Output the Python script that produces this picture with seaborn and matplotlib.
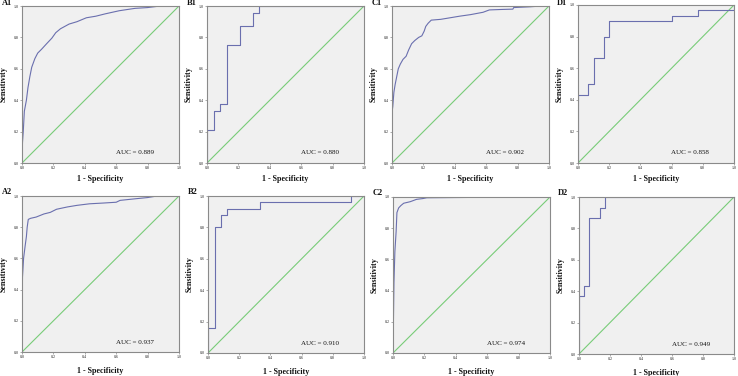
import matplotlib
matplotlib.use("Agg")
import matplotlib.pyplot as plt
import seaborn as sns
import pandas as pd

# ---------------- data ----------------
panel_names = ["A1", "B1", "C1", "D1", "A2", "B2", "C2", "D2"]
auc_values = ["0.889", "0.880", "0.902", "0.858", "0.937", "0.910", "0.974", "0.949"]
tick_values = [0.0, 0.2, 0.4, 0.6, 0.8, 1.0]
tick_labels = ["0.0", "0.2", "0.4", "0.6", "0.8", "1.0"]

A1_fpr = [0, 0.003, 0.008, 0.015, 0.028, 0.038, 0.05, 0.062, 0.082, 0.10, 0.125, 0.157, 0.19,
          0.215, 0.245, 0.30, 0.35, 0.41, 0.47, 0.53, 0.62, 0.72, 0.80, 0.88, 1.0]
A1_tpr = [0, 0.13, 0.20, 0.33, 0.40, 0.48, 0.55, 0.61, 0.665, 0.70, 0.725, 0.76, 0.795,
          0.83, 0.855, 0.885, 0.90, 0.925, 0.935, 0.95, 0.97, 0.985, 0.99, 1.0, 1.0]

B1_fpr = [0, 0, 0.042, 0.083, 0.125, 0.208, 0.292, 0.333, 1.0]
B1_tpr = [0, 0.208, 0.333, 0.375, 0.75, 0.875, 0.958, 1.0, 1.0]

C1_fpr = [0, 0.0, 0.005, 0.012, 0.02, 0.03, 0.04, 0.053, 0.07, 0.09, 0.106, 0.125, 0.145, 0.17,
          0.19, 0.205, 0.215, 0.23, 0.25, 0.31, 0.37, 0.43, 0.50, 0.58, 0.62, 0.70, 0.77, 0.775,
          0.88, 0.95, 1.0]
C1_tpr = [0, 0.32, 0.36, 0.45, 0.50, 0.55, 0.60, 0.63, 0.66, 0.68, 0.72, 0.76, 0.78, 0.80,
          0.81, 0.84, 0.87, 0.89, 0.91, 0.915, 0.925, 0.935, 0.945, 0.96, 0.975, 0.978, 0.98, 0.99,
          0.995, 1.0, 1.0]

D1_fpr = [0, 0, 0.067, 0.1, 0.167, 0.2, 0.6, 0.767, 1.0]
D1_tpr = [0, 0.433, 0.5, 0.667, 0.8, 0.9, 0.933, 0.967, 1.0]

A2_fpr = [0, 0.003, 0.01, 0.02, 0.028, 0.033, 0.04, 0.055, 0.09, 0.14, 0.18, 0.22, 0.29, 0.35,
          0.43, 0.52, 0.60, 0.625, 0.72, 0.80, 0.86, 1.0]
A2_tpr = [0, 0.48, 0.60, 0.68, 0.74, 0.80, 0.85, 0.857, 0.865, 0.885, 0.895, 0.915, 0.93, 0.94,
          0.95, 0.955, 0.96, 0.972, 0.982, 0.99, 1.0, 1.0]

B2_fpr = [0, 0, 0.042, 0.083, 0.125, 0.333, 0.917, 1.0]
B2_tpr = [0, 0.16, 0.80, 0.88, 0.92, 0.96, 1.0, 1.0]

C2_fpr = [0, 0.006, 0.012, 0.02, 0.025, 0.036, 0.05, 0.068, 0.11, 0.15, 0.19, 0.215, 0.81, 1.0]
C2_tpr = [0, 0.45, 0.65, 0.78, 0.90, 0.93, 0.945, 0.96, 0.97, 0.985, 0.99, 0.995, 1.0, 1.0]

D2_fpr = [0, 0, 0.033, 0.067, 0.133, 0.167, 1.0]
D2_tpr = [0, 0.367, 0.433, 0.867, 0.933, 1.0, 1.0]

curves = {
    "A1": (A1_fpr, A1_tpr, "default"), "B1": (B1_fpr, B1_tpr, "steps-post"),
    "C1": (C1_fpr, C1_tpr, "default"), "D1": (D1_fpr, D1_tpr, "steps-post"),
    "A2": (A2_fpr, A2_tpr, "default"), "B2": (B2_fpr, B2_tpr, "steps-post"),
    "C2": (C2_fpr, C2_tpr, "default"), "D2": (D2_fpr, D2_tpr, "steps-post"),
}
diag = [0.0, 1.0]

# ---------------- style ----------------
sns.set_theme(style="white")
plt.rcParams["font.family"] = ["Liberation Serif", "DejaVu Serif"]

W, H = 738, 376
fig = plt.figure(figsize=(W / 100, H / 100), dpi=100)

# axes boxes in pixels: left, top, right, bottom
boxes = {
    "A1": (22, 6, 179, 163), "B1": (207, 6, 364, 163),
    "C1": (392, 6, 549, 163), "D1": (578, 5, 734, 163),
    "A2": (22, 196, 179, 352), "B2": (208, 196, 364, 353),
    "C2": (393, 197, 550, 353), "D2": (579, 197, 734, 354),
}

curve_color = "#6a6fae"
diag_color = "#78cc78"
frame_color = "#8a8a8a"

for name, auc in zip(panel_names, auc_values):
    l, t, r, b = boxes[name]
    ax = fig.add_axes([l / W, 1 - b / H, (r - l) / W, (b - t) / H])
    ax.set_facecolor("#f0f0f0")
    fpr, tpr, ds = curves[name]
    df = pd.DataFrame({"fpr": fpr, "tpr": tpr})
    sns.lineplot(data=pd.DataFrame({"x": diag, "y": diag}), x="x", y="y", ax=ax,
                 color=diag_color, linewidth=0.8, sort=False, estimator=None)
    sns.lineplot(data=df, x="fpr", y="tpr", ax=ax, color=curve_color, linewidth=0.8,
                 sort=False, estimator=None, drawstyle=ds)
    ax.set_xlim(0, 1)
    ax.set_ylim(0, 1)
    ax.set_xticks(tick_values)
    ax.set_yticks(tick_values)
    ax.set_xticklabels(tick_labels)
    ax.set_yticklabels(tick_labels)
    ax.tick_params(axis="both", which="both", labelsize=3, length=1.5, width=0.5,
                   color=frame_color, pad=1, labelcolor="#222222",
                   bottom=True, left=True, direction="out")
    for s in ax.spines.values():
        s.set_color(frame_color)
        s.set_linewidth(0.8)
    ax.set_xlabel("1 - Specificity", fontsize=5.8, fontweight="bold", color="#111111")
    ax.set_ylabel("Sensitivity", fontsize=5.8, fontweight="bold", color="#111111")
    h = b - t
    row2 = name.endswith("2")
    ax.xaxis.set_label_coords(0.5, -(15 if row2 else 11.5) / h)
    ax.yaxis.set_label_coords(-14.5 / (r - l), 0.5)
    ax.text(0.72, 0.058 if row2 else 0.066, "AUC = " + auc, transform=ax.transAxes,
            ha="center", va="center", fontsize=5, color="#111111")
    # panel label
    lx = l - 20
    ly = (t - 4) if row2 else 3
    if name in ("D1", "D2"):
        lx = l - 21
    fig.text(lx / W, 1 - ly / H, name, ha="left", va="center", fontsize=6,
             fontweight="bold", color="#111111")

fig.savefig("out.png", dpi=100, facecolor="white")
